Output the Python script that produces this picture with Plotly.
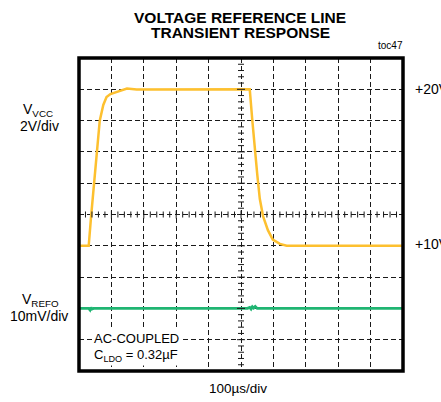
import plotly.graph_objects as go

# VCC line step (V) versus time (µs)
vcc_time = [0, 30, 37, 43, 50, 64, 75, 85, 97, 120, 148, 178, 527, 535, 543, 550, 558, 568, 583, 598, 620, 641, 1000]
vcc_volts = [10, 10, 11.8, 13.2, 14.9, 18.0, 19.0, 19.5, 19.7, 19.88, 20.05, 19.98, 20, 18.0, 16.0, 14.6, 13.0, 11.9, 11.0, 10.4, 10.12, 10.0, 10.0]

# VREFO, AC-coupled (mV) versus time (µs)
vref_time = [0, 30, 34, 37, 40, 45, 520, 527, 531, 535, 539, 544, 550, 560, 1000]
vref_mv = [0, 0, -0.5, 0.3, -0.2, 0, 0, 0.3, -0.2, 0.5, 0.1, 0.6, 0, 0, 0]

time_range = [0, 1000]     # 100 µs/div, 10 divisions
vcc_range = [2, 22]        # 2 V/div
vref_range = [-20, 80]     # 10 mV/div

W, H = 441, 402
L, R, T, B = 79, 403, 58, 371
FONT = "Liberation Sans, Arial, sans-serif"
YELLOW = "#FDC02F"
GREEN = "#1FB572"


def px(x, y):
    return (x - L) / (R - L), (B - y) / (B - T)


fig = go.Figure()
fig.add_trace(go.Scatter(x=vcc_time, y=vcc_volts, mode="lines",
                         line=dict(color=YELLOW, width=2.5), yaxis="y", showlegend=False))
fig.add_trace(go.Scatter(x=vref_time, y=vref_mv, mode="lines",
                         line=dict(color=GREEN, width=2.8), yaxis="y2", showlegend=False))

grid = dict(showgrid=True, gridcolor="#1a1a1a", gridwidth=1, griddash="5px,3px",
            showticklabels=False, ticks="", zeroline=False, showline=False, fixedrange=True)
fig.update_layout(
    width=W, height=H,
    margin=dict(l=L, r=W - R, t=T, b=H - B, pad=0),
    paper_bgcolor="white", plot_bgcolor="white",
    font=dict(family=FONT, color="black"),
    xaxis=dict(range=time_range, tick0=0, dtick=100, **grid),
    yaxis=dict(range=vcc_range, tick0=2, dtick=2, **grid),
    yaxis2=dict(range=vref_range, overlaying="y", visible=False, fixedrange=True),
)

# minor ticks along the center cross-hair
shapes = []
cx = (time_range[0] + time_range[1]) / 2
cy = (vcc_range[0] + vcc_range[1]) / 2
for i in range(51):
    t = time_range[0] + i * (time_range[1] - time_range[0]) / 50
    h = 4 if i % 5 == 0 else 3
    shapes.append(dict(type="line", xref="x", yref="y", ysizemode="pixel", yanchor=cy,
                       x0=t, x1=t, y0=-h, y1=h, line=dict(color="#1a1a1a", width=1)))
    v = vcc_range[0] + i * (vcc_range[1] - vcc_range[0]) / 50
    shapes.append(dict(type="line", xref="x", yref="y", xsizemode="pixel", xanchor=cx,
                       x0=-h, x1=h, y0=v, y1=v, line=dict(color="#1a1a1a", width=1)))
# frame
shapes.append(dict(type="rect", xref="paper", yref="paper", x0=0, x1=1, y0=0, y1=1,
                   line=dict(color="black", width=3.5), layer="above"))
fig.update_layout(shapes=shapes)


def label(text, x, y, size=14, xanchor="center", bold=False, bg=None):
    ax, ay = px(x, y)
    a = dict(text=f"<b>{text}</b>" if bold else text, xref="paper", yref="paper",
             x=ax, y=ay, xanchor=xanchor, yanchor="middle", showarrow=False,
             font=dict(family=FONT, size=size, color="black"))
    if bg:
        a.update(bgcolor=bg, borderpad=1)
    fig.add_annotation(**a)


label("VOLTAGE REFERENCE LINE", 240, 17.5, size=15.5, bold=True)
label("TRANSIENT RESPONSE", 240, 32, size=15.5, bold=True)
label("toc47", 390.5, 45.5, size=10)
label("+20V", 413, 89, xanchor="left")
label("+10V", 413, 244, xanchor="left")
label("V<sub>VCC</sub>", 38, 110)
label("2V/div", 39, 126)
label("V<sub>REFO</sub>", 40, 300)
label("10mV/div", 39, 315.5)
label("AC-COUPLED", 92, 338, size=13, xanchor="left", bg="white")
label("C<sub>LDO</sub> = 0.32µF", 92, 355, size=13, xanchor="left", bg="white")
label("100µs/div", 237.5, 388.7, size=13.5)

fig.write_html("out.html")
